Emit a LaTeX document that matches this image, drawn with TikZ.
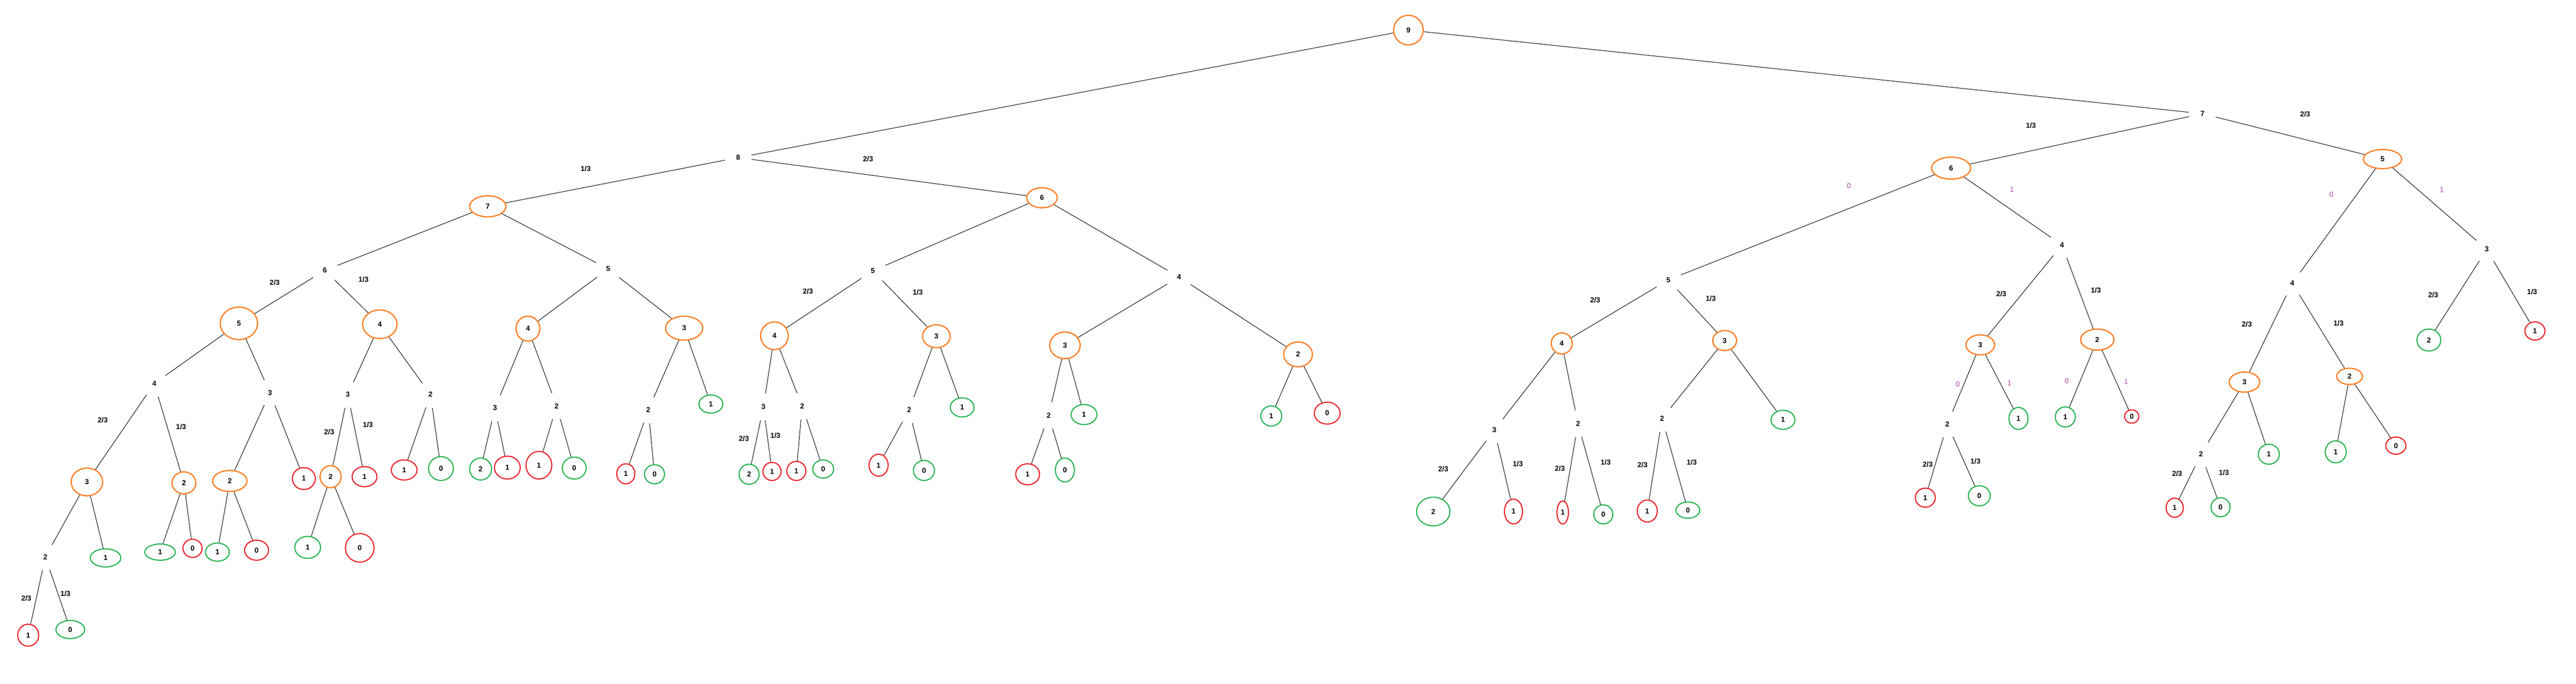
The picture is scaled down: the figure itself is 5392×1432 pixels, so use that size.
\documentclass[tikz,border=0pt]{standalone}
\usepackage{fontspec}
\setmainfont{Liberation Sans}
\usetikzlibrary{shapes.geometric}
\definecolor{orangepaint}{HTML}{FF7F27}
\definecolor{redpaint}{HTML}{ED1C24}
\definecolor{greenpaint}{HTML}{22B14C}
\definecolor{purplepaint}{HTML}{A349A4}
\tikzset{
  sz/.style 2 args={minimum width=#1mm, minimum height=#2mm},
  pick/.style={draw=orangepaint, line width=0.75pt, ellipse, inner sep=0pt},
  win/.style={draw=greenpaint, line width=0.65pt, ellipse, inner sep=0pt},
  lose/.style={draw=redpaint, line width=0.65pt, ellipse, inner sep=0pt},
  chance/.style={circle, inner sep=0pt, minimum size=5.6mm},
  prob/.style={inner sep=0pt},
  choice/.style={inner sep=0pt, text=purplepaint, font=\fontsize{4.3}{5}\selectfont}
}

\begin{document}
\begin{tikzpicture}[x=0.1mm, y=-0.1mm, line width=0.3pt,
  every node/.style={font=\fontsize{4.3}{5}\selectfont\bfseries}]
\useasboundingbox (0,0) rectangle (5392,1432);

\node[pick, sz={6.2}{6.2}] at (2948,63) (d1) {9} ;
\node[pick, sz={7.6}{4.4}] at (1021,432) (d2) {7} ;
\node[pick, sz={6.4}{4.2}] at (2181,414) (d3) {6} ;
\node[pick, sz={7.8}{6.8}] at (500,677) (d4) {5} ;
\node[pick, sz={7.2}{6.0}] at (795,679) (d5) {4} ;
\node[pick, sz={5.0}{5.2}] at (1105,688) (d6) {4} ;
\node[pick, sz={7.8}{5.0}] at (1432,687) (d7) {3} ;
\node[pick, sz={5.8}{5.8}] at (1621,703) (d8) {4} ;
\node[pick, sz={5.8}{4.8}] at (1960,704) (d9) {3} ;
\node[pick, sz={6.4}{5.6}] at (2229,723) (d10) {3} ;
\node[pick, sz={6.0}{5.2}] at (2717,742) (d11) {2} ;
\node[pick, sz={6.6}{5.8}] at (182,1009) (d12) {3} ;
\node[pick, sz={5.0}{4.6}] at (385,1011) (d13) {2} ;
\node[pick, sz={7.2}{4.4}] at (481,1007) (d14) {2} ;
\node[pick, sz={4.4}{4.6}] at (692,998) (d15) {2} ;
\node[pick, sz={8.2}{4.6}] at (4084,352) (d16) {6} ;
\node[pick, sz={8.0}{4.0}] at (4987,333) (d17) {5} ;
\node[pick, sz={4.4}{4.4}] at (3269,719) (d18) {4} ;
\node[pick, sz={5.0}{4.2}] at (3610,713) (d19) {3} ;
\node[pick, sz={6.0}{4.2}] at (4145,722) (d20) {3} ;
\node[pick, sz={7.0}{4.4}] at (4390,711) (d21) {2} ;
\node[pick, sz={6.4}{4.2}] at (4698,800) (d22) {3} ;
\node[pick, sz={5.4}{3.4}] at (4918,788) (d23) {2} ;

\node[chance] at (1545,330) (p1) {8} ;
\node[chance] at (4610,238) (p2) {7} ;
\node[chance] at (680,566) (p3) {6} ;
\node[chance] at (1273,563) (p4) {5} ;
\node[chance] at (1827,567) (p5) {5} ;
\node[chance] at (2468,580) (p6) {4} ;
\node[chance] at (323,803) (p7) {4} ;
\node[chance] at (565,822) (p8) {3} ;
\node[chance] at (728,826) (p9) {3} ;
\node[chance] at (901,826) (p10) {2} ;
\node[chance] at (1036,854) (p11) {3} ;
\node[chance] at (1165,850) (p12) {2} ;
\node[chance] at (1357,858) (p13) {2} ;
\node[chance] at (1598,852) (p14) {3} ;
\node[chance] at (1679,850) (p15) {2} ;
\node[chance] at (1903,858) (p16) {2} ;
\node[chance] at (2195,870) (p17) {2} ;
\node[chance] at (95,1166) (p18) {2} ;
\node[chance] at (3492,586) (p19) {5} ;
\node[chance] at (3128,900) (p20) {3} ;
\node[chance] at (3303,887) (p21) {2} ;
\node[chance] at (3479,876) (p22) {2} ;
\node[chance] at (4316,513) (p23) {4} ;
\node[chance] at (4076,888) (p24) {2} ;
\node[chance] at (4798,593) (p25) {4} ;
\node[chance] at (5205,522) (p26) {3} ;
\node[chance] at (4607,951) (p27) {2} ;

\node[win, sz={6.4}{3.8}] at (221,1168) (g1) {1} ;
\node[win, sz={6.4}{3.4}] at (335,1156) (g2) {1} ;
\node[win, sz={5.0}{3.8}] at (455,1156) (g3) {1} ;
\node[win, sz={5.4}{4.6}] at (644,1146) (g4) {1} ;
\node[win, sz={6.0}{3.8}] at (147,1318) (g5) {0} ;
\node[win, sz={5.2}{5.0}] at (923,981) (g6) {0} ;
\node[win, sz={4.6}{4.6}] at (1006,982) (g7) {2} ;
\node[win, sz={5.0}{4.6}] at (1202,980) (g8) {0} ;
\node[win, sz={5.0}{3.8}] at (1488,846) (g9) {1} ;
\node[win, sz={4.2}{4.0}] at (1370,993) (g10) {0} ;
\node[win, sz={4.2}{4.2}] at (1568,993) (g11) {2} ;
\node[win, sz={4.4}{3.8}] at (1723,982) (g12) {0} ;
\node[win, sz={5.0}{4.0}] at (2014,853) (g13) {1} ;
\node[win, sz={4.4}{4.2}] at (1934,985) (g14) {0} ;
\node[win, sz={5.4}{4.2}] at (2269,868) (g15) {1} ;
\node[win, sz={4.0}{5.0}] at (2229,984) (g16) {0} ;
\node[win, sz={4.4}{4.2}] at (2661,871) (g17) {1} ;
\node[win, sz={7.0}{6.0}] at (3000,1071) (g18) {2} ;
\node[win, sz={4.0}{4.0}] at (3356,1077) (g19) {0} ;
\node[win, sz={5.0}{3.4}] at (3533,1068) (g20) {0} ;
\node[win, sz={5.0}{4.0}] at (3732,879) (g21) {1} ;
\node[win, sz={4.0}{4.6}] at (4225,876) (g22) {1} ;
\node[win, sz={4.6}{4.2}] at (4143,1038) (g23) {0} ;
\node[win, sz={4.2}{4.2}] at (4323,873) (g24) {1} ;
\node[win, sz={4.4}{4.2}] at (4749,951) (g25) {1} ;
\node[win, sz={4.4}{4.6}] at (4889,946) (g26) {1} ;
\node[win, sz={4.0}{4.0}] at (4648,1062) (g27) {0} ;
\node[win, sz={5.0}{4.6}] at (5084,712) (g28) {2} ;

\node[lose, sz={4.8}{4.6}] at (636,1002) (r1) {1} ;
\node[lose, sz={5.2}{4.2}] at (763,998) (r2) {1} ;
\node[lose, sz={5.4}{4.2}] at (846,984) (r3) {1} ;
\node[lose, sz={4.0}{3.8}] at (403,1148) (r4) {0} ;
\node[lose, sz={5.0}{4.2}] at (537,1152) (r5) {0} ;
\node[lose, sz={6.0}{6.0}] at (753,1147) (r6) {0} ;
\node[lose, sz={4.4}{4.6}] at (59,1330) (r7) {1} ;
\node[lose, sz={5.4}{4.8}] at (1062,979) (r8) {1} ;
\node[lose, sz={5.4}{5.8}] at (1128,974) (r9) {1} ;
\node[lose, sz={3.8}{4.2}] at (1310,992) (r10) {1} ;
\node[lose, sz={3.8}{3.8}] at (1616,987) (r11) {1} ;
\node[lose, sz={4.0}{4.0}] at (1667,986) (r12) {1} ;
\node[lose, sz={4.0}{4.6}] at (1839,974) (r13) {1} ;
\node[lose, sz={5.0}{4.4}] at (2151,993) (r14) {1} ;
\node[lose, sz={5.4}{4.6}] at (2778,865) (r15) {0} ;
\node[lose, sz={3.8}{5.2}] at (3168,1071) (r16) {1} ;
\node[lose, sz={2.4}{4.8}] at (3271,1073) (r17) {1} ;
\node[lose, sz={4.2}{4.6}] at (3448,1070) (r18) {1} ;
\node[lose, sz={4.2}{4.0}] at (4030,1042) (r19) {1} ;
\node[lose, sz={3.0}{2.8}] at (4462,872) (r20) {0} ;
\node[lose, sz={3.6}{4.0}] at (4552,1063) (r21) {1} ;
\node[lose, sz={4.2}{3.6}] at (5015,933) (r22) {0} ;
\node[lose, sz={4.2}{3.8}] at (5306,693) (r23) {1} ;

\draw (d1) -- (p1) ;
\draw (d1) -- (p2) ;
\draw (p1) -- (d2) ;
\draw (p1) -- (d3) ;
\draw (d2) -- (p3) ;
\draw (d2) -- (p4) ;
\draw (d3) -- (p5) ;
\draw (d3) -- (p6) ;
\draw (p3) -- (d4) ;
\draw (p3) -- (d5) ;
\draw (p4) -- (d6) ;
\draw (p4) -- (d7) ;
\draw (p5) -- (d8) ;
\draw (p5) -- (d9) ;
\draw (p6) -- (d10) ;
\draw (p6) -- (d11) ;
\draw (d4) -- (p7) ;
\draw (d4) -- (p8) ;
\draw (d5) -- (p9) ;
\draw (d5) -- (p10) ;
\draw (d6) -- (p11) ;
\draw (d6) -- (p12) ;
\draw (d7) -- (p13) ;
\draw (d7) -- (g9) ;
\draw (d8) -- (p14) ;
\draw (d8) -- (p15) ;
\draw (d9) -- (p16) ;
\draw (d9) -- (g13) ;
\draw (d10) -- (p17) ;
\draw (d10) -- (g15) ;
\draw (d11) -- (g17) ;
\draw (d11) -- (r15) ;
\draw (p7) -- (d12) ;
\draw (p7) -- (d13) ;
\draw (p8) -- (d14) ;
\draw (p8) -- (r1) ;
\draw (p9) -- (d15) ;
\draw (p9) -- (r2) ;
\draw (p10) -- (r3) ;
\draw (p10) -- (g6) ;
\draw (p11) -- (g7) ;
\draw (p11) -- (r8) ;
\draw (p12) -- (r9) ;
\draw (p12) -- (g8) ;
\draw (p13) -- (r10) ;
\draw (p13) -- (g10) ;
\draw (p14) -- (g11) ;
\draw (p14) -- (r11) ;
\draw (p15) -- (r12) ;
\draw (p15) -- (g12) ;
\draw (p16) -- (r13) ;
\draw (p16) -- (g14) ;
\draw (p17) -- (r14) ;
\draw (p17) -- (g16) ;
\draw (d12) -- (p18) ;
\draw (d12) -- (g1) ;
\draw (d13) -- (g2) ;
\draw (d13) -- (r4) ;
\draw (d14) -- (g3) ;
\draw (d14) -- (r5) ;
\draw (d15) -- (g4) ;
\draw (d15) -- (r6) ;
\draw (p18) -- (r7) ;
\draw (p18) -- (g5) ;

\draw (p2) -- (d16) ;
\draw (p2) -- (d17) ;
\draw (d16) -- (p19) ;
\draw (d16) -- (p23) ;
\draw (p19) -- (d18) ;
\draw (p19) -- (d19) ;
\draw (d18) -- (p20) ;
\draw (d18) -- (p21) ;
\draw (d19) -- (p22) ;
\draw (d19) -- (g21) ;
\draw (p20) -- (g18) ;
\draw (p20) -- (r16) ;
\draw (p21) -- (r17) ;
\draw (p21) -- (g19) ;
\draw (p22) -- (r18) ;
\draw (p22) -- (g20) ;
\draw (p23) -- (d20) ;
\draw (p23) -- (d21) ;
\draw (d20) -- (p24) ;
\draw (d20) -- (g22) ;
\draw (p24) -- (r19) ;
\draw (p24) -- (g23) ;
\draw (d21) -- (g24) ;
\draw (d21) -- (r20) ;
\draw (d17) -- (p25) ;
\draw (d17) -- (p26) ;
\draw (p25) -- (d22) ;
\draw (p25) -- (d23) ;
\draw (d22) -- (p27) ;
\draw (d22) -- (g25) ;
\draw (p27) -- (r21) ;
\draw (p27) -- (g27) ;
\draw (d23) -- (g26) ;
\draw (d23) -- (r22) ;
\draw (p26) -- (g28) ;
\draw (p26) -- (r23) ;

\node[prob] at (1226,353) (q1) {1/3} ;
\node[prob] at (1817,333) (q2) {2/3} ;
\node[prob] at (575,592) (q3) {2/3} ;
\node[prob] at (761,585) (q4) {1/3} ;
\node[prob] at (215,880) (q5) {2/3} ;
\node[prob] at (379,893) (q6) {1/3} ;
\node[prob] at (689,904) (q7) {2/3} ;
\node[prob] at (770,889) (q8) {1/3} ;
\node[prob] at (55,1253) (q9) {2/3} ;
\node[prob] at (137,1243) (q10) {1/3} ;
\node[prob] at (1691,610) (q11) {2/3} ;
\node[prob] at (1921,612) (q12) {1/3} ;
\node[prob] at (1557,918) (q13) {2/3} ;
\node[prob] at (1623,912) (q14) {1/3} ;
\node[prob] at (4251,263) (q15) {1/3} ;
\node[prob] at (4825,239) (q16) {2/3} ;
\node[prob] at (3339,628) (q17) {2/3} ;
\node[prob] at (3581,625) (q18) {1/3} ;
\node[prob] at (3021,982) (q19) {2/3} ;
\node[prob] at (3177,971) (q20) {1/3} ;
\node[prob] at (3265,981) (q21) {2/3} ;
\node[prob] at (3361,968) (q22) {1/3} ;
\node[prob] at (3438,973) (q23) {2/3} ;
\node[prob] at (3541,968) (q24) {1/3} ;
\node[prob] at (4189,615) (q25) {2/3} ;
\node[prob] at (4387,608) (q26) {1/3} ;
\node[prob] at (4035,972) (q27) {2/3} ;
\node[prob] at (4135,966) (q28) {1/3} ;
\node[prob] at (4703,679) (q29) {2/3} ;
\node[prob] at (4895,677) (q30) {1/3} ;
\node[prob] at (4557,992) (q31) {2/3} ;
\node[prob] at (4655,989) (q32) {1/3} ;
\node[prob] at (5093,617) (q33) {2/3} ;
\node[prob] at (5300,611) (q34) {1/3} ;

\node[choice] at (3870,389) (c1) {0} ;
\node[choice] at (4211,396) (c2) {1} ;
\node[choice] at (4098,804) (c3) {0} ;
\node[choice] at (4206,802) (c4) {1} ;
\node[choice] at (4326,798) (c5) {0} ;
\node[choice] at (4450,799) (c6) {1} ;
\node[choice] at (4880,407) (c7) {0} ;
\node[choice] at (5111,398) (c8) {1} ;
\end{tikzpicture}
\end{document}
